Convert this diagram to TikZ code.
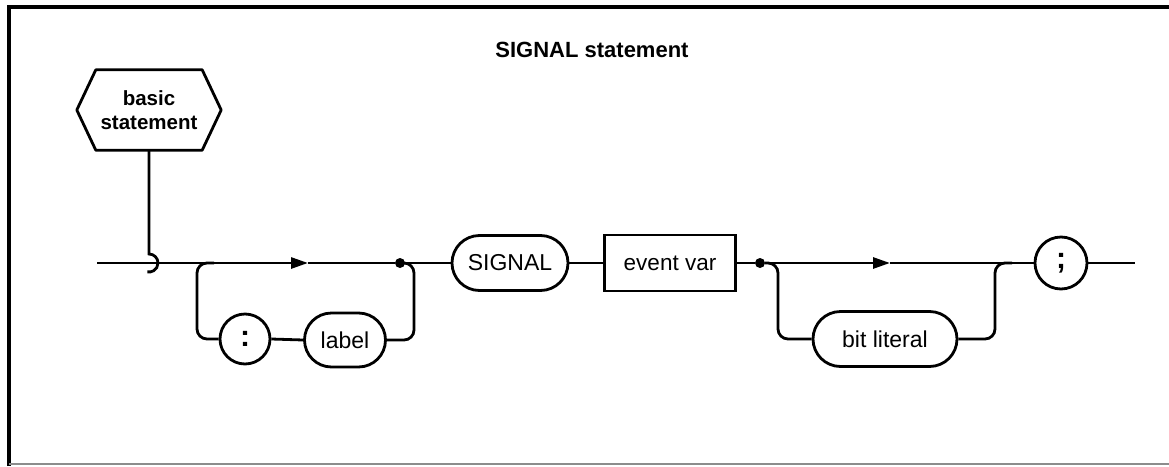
\documentclass[tikz,border=0pt]{standalone}
\usepackage{fontspec}
\setmainfont{Liberation Sans}
\usetikzlibrary{arrows.meta,shapes.misc}
\begin{document}
\begin{tikzpicture}[x=1pt,y=-1pt,
  ln/.style={line width=2.8pt},
  term/.style={draw,ln,rounded rectangle,inner sep=0pt,font=\fontsize{23}{23}\selectfont},
  nonterm/.style={draw,ln,rectangle,inner sep=0pt,font=\fontsize{22.5}{23}\selectfont},
  punct/.style={draw,ln,circle,inner sep=0pt,minimum size=50pt,font=\bfseries\fontsize{30}{30}\selectfont},
  junction/.style={circle,fill,inner sep=0pt,minimum size=10pt},
  tip/.style={-{Triangle[length=17pt,width=11pt]}}
]
\useasboundingbox (0,0) rectangle (1169,466);
\fill[white] (0,0) rectangle (1169,466);
\draw[line width=3.2pt] (9,466) -- (9,7) -- (1169,7);
\draw[line width=1.5pt,black!45] (9,464) -- (1169,464);

\node[font=\bfseries\fontsize{22}{22}\selectfont] (title) at (592,50) {SIGNAL statement};

\node[align=center,font=\bfseries\fontsize{20.5}{24}\selectfont,minimum width=106pt,minimum height=80pt,inner sep=0pt] (hex) at (149,110) {basic\\statement};
\draw[ln,line join=round] (hex.north west) -- (hex.north east) -- ([xshift=19pt]hex.east) -- (hex.south east) -- (hex.south west) -- ([xshift=-19pt]hex.west) -- cycle;

\coordinate (start) at (97,263);
\coordinate (hooktop) at (149,254);
\node[punct] (colon) at (245,339) {:};
\node[term,minimum width=81pt,minimum height=54pt] (label) at (345,340) {label};
\node[term,minimum width=116pt,minimum height=55pt] (signal) at (510,263) {SIGNAL};
\node[nonterm,minimum width=131pt,minimum height=56pt] (evvar) at (670,263) {event var};
\node[term,minimum width=144pt,minimum height=55pt] (bitlit) at (885,339) {bit literal};
\node[punct,minimum size=52pt] (semi) at (1061,263) {;};
\node[junction] (j1) at (400,263) {};
\node[junction] (j2) at (760,263) {};
\coordinate (a1) at (308,263);
\coordinate (a2) at (890,263);
\coordinate (endp) at (1135,263);
\coordinate (l1) at (214,263);
\coordinate (r2) at (1012,263);

\draw[ln] (hex.south) -- (hooktop) arc[start angle=-90,end angle=100,radius=9];

\draw[ln,tip] (start) -- (a1);
\draw[ln] (a1) -- (j1) -- (signal.west);
\draw[ln] (signal.east) -- (evvar.west);
\draw[ln] (evvar.east) -- (j2);
\draw[ln,tip] (j2) -- (a2);
\draw[ln] (a2) -- (semi.west);
\draw[ln] (semi.east) -- (endp);

\draw[ln,rounded corners=10pt] (l1) -| (197,339) -- (colon.west);
\draw[ln] (colon.east) -- (label.west);
\draw[ln,rounded corners=10pt] (label.east) -| (414,263) -- (j1);

\draw[ln,rounded corners=10pt] (j2) -| (778,339) -- (bitlit.west);
\draw[ln,rounded corners=10pt] (bitlit.east) -| (995,263) -- (r2);
\end{tikzpicture}
\end{document}
